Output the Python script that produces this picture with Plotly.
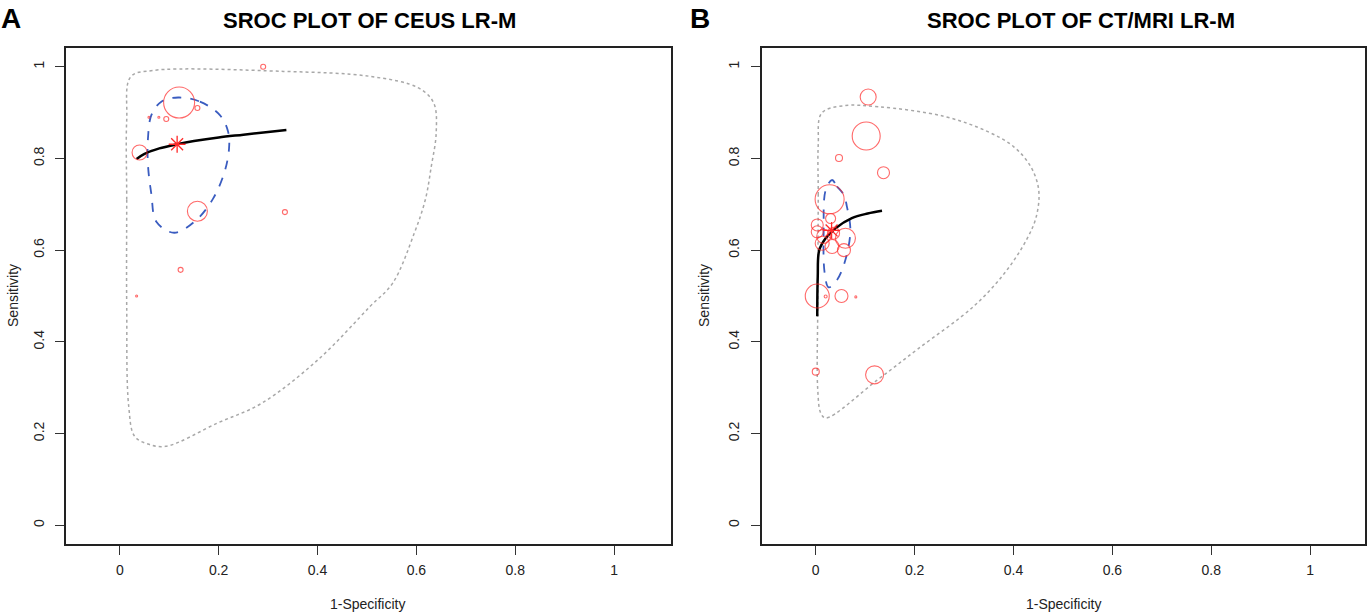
import plotly.graph_objects as go

# ---- panel A: CEUS LR-M ----
ceus_fpr = [0.29, 0.12, 0.157, 0.059, 0.079, 0.094, 0.040, 0.157, 0.334, 0.123, 0.034]
ceus_sens = [1.0, 0.922, 0.91, 0.89, 0.89, 0.886, 0.813, 0.685, 0.683, 0.557, 0.50]
ceus_size = [5, 31, 5, 2, 2, 5, 15, 20, 5, 5, 2]

ceus_summary = (0.116, 0.831)

ceus_curve_x = [0.034, 0.05, 0.08, 0.116, 0.15, 0.2, 0.25, 0.3, 0.337]
ceus_curve_y = [0.799, 0.810, 0.822, 0.831, 0.838, 0.846, 0.852, 0.858, 0.862]

ceus_conf_x = [0.118, 0.162, 0.202, 0.219, 0.221, 0.212, 0.189, 0.155, 0.110,
               0.074, 0.064, 0.057, 0.057, 0.064, 0.084, 0.118]
ceus_conf_y = [0.933, 0.924, 0.895, 0.859, 0.822, 0.771, 0.713, 0.666, 0.638,
               0.662, 0.721, 0.786, 0.844, 0.895, 0.924, 0.933]

ceus_pred_x = [0.014, 0.014, 0.014, 0.022, 0.067, 0.331, 0.507, 0.604, 0.635, 0.640,
               0.630, 0.618, 0.596, 0.552, 0.507, 0.402, 0.287, 0.198, 0.093, 0.057,
               0.030, 0.018, 0.014]
ceus_pred_y = [0.478, 0.710, 0.884, 0.978, 0.992, 0.990, 0.979, 0.954, 0.921, 0.856,
               0.782, 0.710, 0.638, 0.528, 0.478, 0.362, 0.266, 0.223, 0.172, 0.177,
               0.194, 0.260, 0.478]

# ---- panel B: CT/MRI LR-M ----
ct_fpr = [0.106, 0.102, 0.047, 0.137, 0.028, 0.030, 0.003, 0.003, 0.016, 0.013,
          0.036, 0.060, 0.057, 0.033, 0.003, 0.020, 0.052, 0.081, 0.0, 0.119]
ct_sens = [0.934, 0.849, 0.801, 0.769, 0.711, 0.669, 0.655, 0.640, 0.630, 0.615,
           0.637, 0.626, 0.600, 0.608, 0.50, 0.499, 0.50, 0.498, 0.335, 0.328]
ct_size = [16, 28, 7, 12, 29, 10, 12, 12, 14, 14, 12, 20, 13, 14, 24, 3, 13, 2, 7, 18]

ct_summary = (0.032, 0.643)

ct_curve_x = [0.003, 0.004, 0.007, 0.020, 0.040, 0.073, 0.105, 0.134]
ct_curve_y = [0.456, 0.542, 0.600, 0.626, 0.648, 0.670, 0.680, 0.686]

ct_conf_x = [0.033, 0.043, 0.057, 0.063, 0.070, 0.060, 0.043, 0.026, 0.018, 0.016, 0.020, 0.033]
ct_conf_y = [0.753, 0.739, 0.720, 0.695, 0.644, 0.579, 0.535, 0.519, 0.550, 0.644, 0.731, 0.753]

ct_pred_x = [0.004, 0.005, 0.005, 0.012, 0.056, 0.126, 0.259, 0.347, 0.400, 0.435, 0.451,
             0.446, 0.426, 0.382, 0.320, 0.206, 0.126, 0.020, 0.010, 0.004, 0.004]
ct_pred_y = [0.478, 0.720, 0.830, 0.899, 0.915, 0.913, 0.892, 0.859, 0.826, 0.782, 0.731,
             0.673, 0.622, 0.550, 0.478, 0.384, 0.318, 0.234, 0.245, 0.296, 0.478]

tick_vals = [0, 0.2, 0.4, 0.6, 0.8, 1]
tick_text = ["0", "0.2", "0.4", "0.6", "0.8", "1"]

RED = "#ff2a2a"
BLUE = "#3a5cc0"
GREY = "#a8a8a8"

fig = go.Figure()


def add_panel(fig, xa, ya, fpr, sens, size, summary, cx, cy, bx, by, px, py):
    fig.add_trace(go.Scatter(x=px, y=py, mode="lines", xaxis=xa, yaxis=ya,
                             line=dict(color=GREY, width=1.5, dash="dot", shape="spline")))
    fig.add_trace(go.Scatter(x=bx, y=by, mode="lines", xaxis=xa, yaxis=ya,
                             line=dict(color=BLUE, width=1.8, dash="dash", shape="spline")))
    fig.add_trace(go.Scatter(x=cx, y=cy, mode="lines", xaxis=xa, yaxis=ya,
                             line=dict(color="black", width=2.5, shape="spline")))
    fig.add_trace(go.Scatter(x=fpr, y=sens, mode="markers", xaxis=xa, yaxis=ya,
                             marker=dict(symbol="circle-open", size=size, color=RED,
                                         line=dict(width=1.1, color=RED))))
    fig.add_trace(go.Scatter(x=[summary[0]], y=[summary[1]], mode="markers", xaxis=xa, yaxis=ya,
                             marker=dict(symbol="asterisk-open", size=14, color=RED,
                                         line=dict(width=1.3, color=RED))))


add_panel(fig, "x", "y", ceus_fpr, ceus_sens, ceus_size, ceus_summary,
          ceus_curve_x, ceus_curve_y, ceus_conf_x, ceus_conf_y, ceus_pred_x, ceus_pred_y)
add_panel(fig, "x2", "y2", ct_fpr, ct_sens, ct_size, ct_summary,
          ct_curve_x, ct_curve_y, ct_conf_x, ct_conf_y, ct_pred_x, ct_pred_y)

axis_common = dict(
    tickvals=tick_vals, ticktext=tick_text, ticks="outside", ticklen=9, tickwidth=1.3,
    tickcolor="#333", showline=True, linecolor="#222", linewidth=1.6, mirror=True,
    showgrid=False, zeroline=False, tickfont=dict(family="Liberation Sans, Arial", size=14, color="#222"),
    fixedrange=True,
)

ydom = [1 - 544 / 612, 1 - 48 / 612]
fig.update_layout(
    xaxis=dict(axis_common, domain=[66 / 1367, 672 / 1367], range=[-0.109, 1.115], ticklabelstandoff=3),
    yaxis=dict(axis_common, domain=ydom, range=[-0.041, 1.041], tickangle=-90, anchor="x", ticklabelstandoff=6),
    xaxis2=dict(axis_common, domain=[763 / 1367, 1.0], range=[-0.109, 1.111], anchor="y2", ticklabelstandoff=3),
    yaxis2=dict(axis_common, domain=ydom, range=[-0.041, 1.041], tickangle=-90, anchor="x2", ticklabelstandoff=6),
    width=1367, height=612,
    margin=dict(l=0, r=0, t=0, b=0),
    paper_bgcolor="white", plot_bgcolor="white",
    showlegend=False,
)

title_font = dict(family="Liberation Sans, Arial", size=22, color="black")
label_font = dict(family="Liberation Sans, Arial", size=14, color="#222")
notes = [
    dict(x=11 / 1367, y=1 - 18 / 612, text="<b>A</b>", font=dict(family="Liberation Sans, Arial", size=28, color="black")),
    dict(x=701 / 1367, y=1 - 18 / 612, text="<b>B</b>", font=dict(family="Liberation Sans, Arial", size=28, color="black")),
    dict(x=370 / 1367, y=1 - 21 / 612, text="<b>SROC PLOT OF CEUS LR-M</b>", font=title_font),
    dict(x=1083 / 1367, y=1 - 21 / 612, text="<b>SROC PLOT OF CT/MRI LR-M</b>", font=title_font),
    dict(x=368 / 1367, y=1 - 604 / 612, text="1-Specificity", font=label_font),
    dict(x=1065 / 1367, y=1 - 604 / 612, text="1-Specificity", font=label_font),
    dict(x=13 / 1367, y=1 - 295 / 612, text="Sensitivity", font=label_font, textangle=-90),
    dict(x=705 / 1367, y=1 - 295 / 612, text="Sensitivity", font=label_font, textangle=-90),
]
for n in notes:
    fig.add_annotation(xref="paper", yref="paper", showarrow=False,
                       xanchor="center", yanchor="middle", **n)

fig.write_html("out.html", config={"displayModeBar": False},
               post_script="document.body.style.margin='0';")
